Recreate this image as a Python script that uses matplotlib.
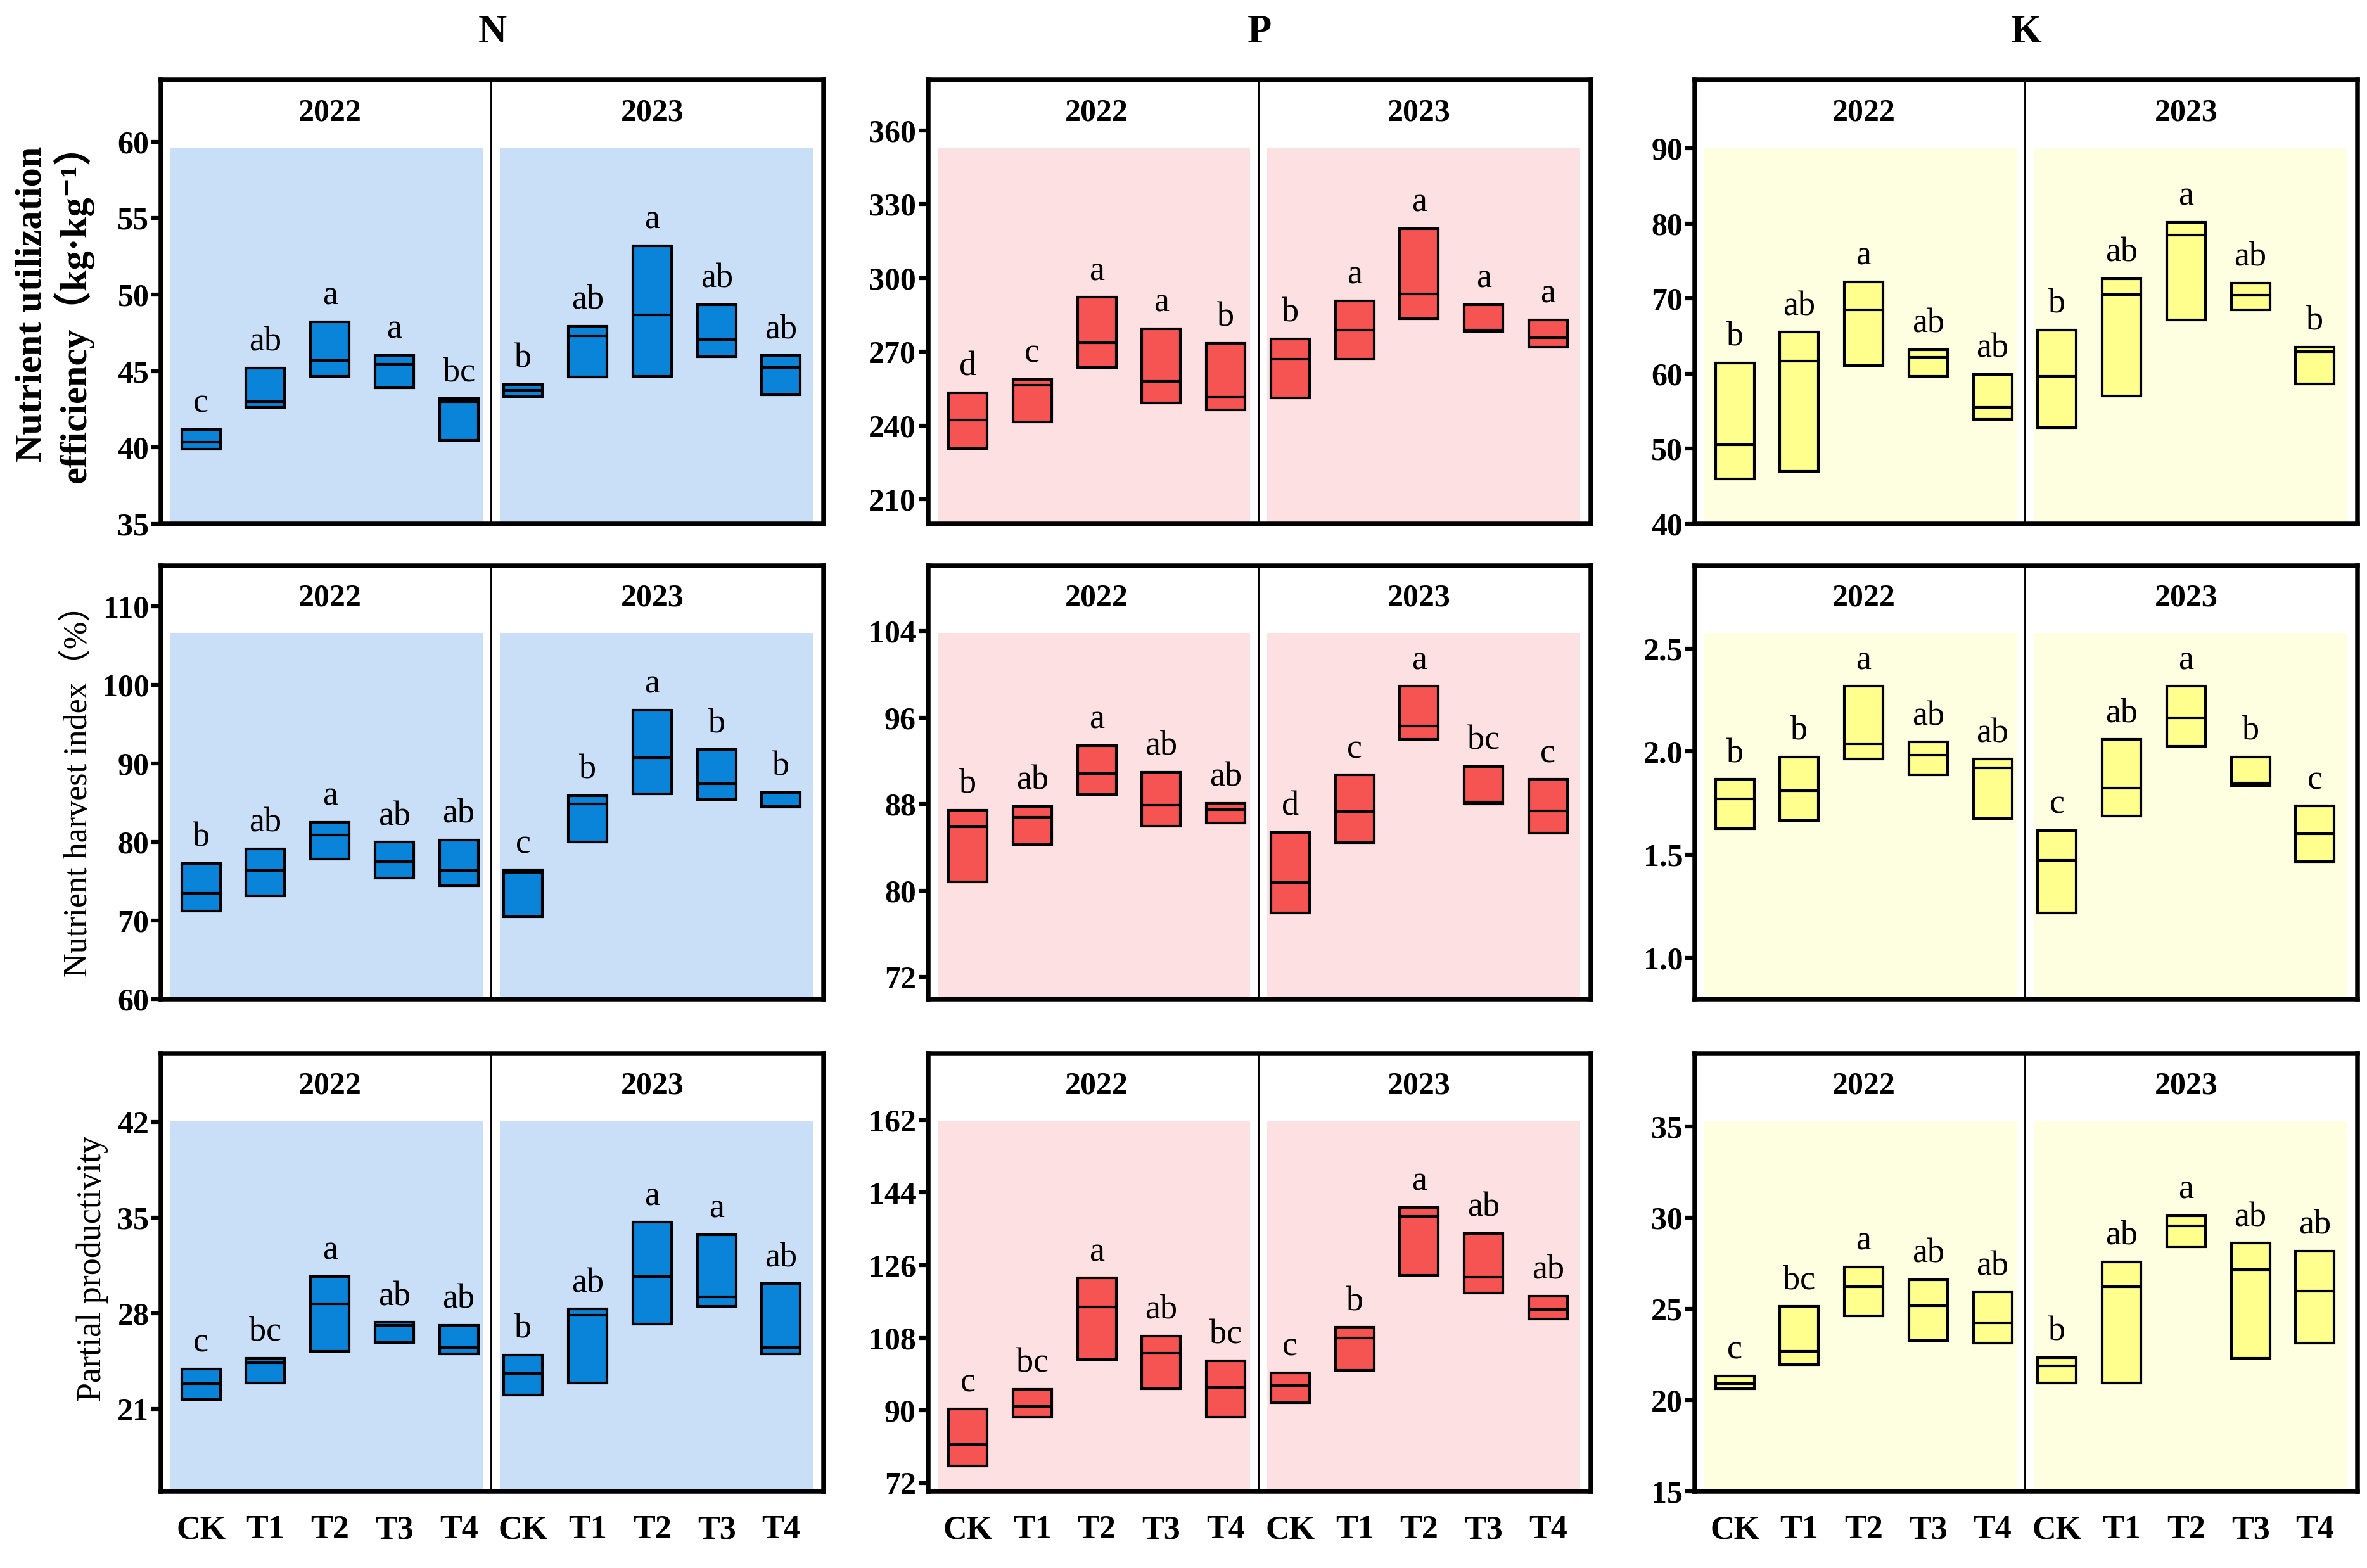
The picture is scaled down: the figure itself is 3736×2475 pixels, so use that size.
import numpy as np
import matplotlib
matplotlib.use('Agg')
from matplotlib import pyplot as plt

plt.rcParams['font.family'] = ['Liberation Serif', 'DejaVu Serif', 'Noto Sans CJK SC']

# kategori perlakuan (2022 lalu 2023)
perlakuan = ['CK', 'T1', 'T2', 'T3', 'T4']
tahun = ['2022', '2023']
hara = ['N', 'P', 'K']

# baris 1 : efisiensi pemanfaatan hara (min, median, maks)
nue_n_lo = [39.87, 42.62, 44.64, 43.90, 40.45, 43.34, 44.60, 44.64, 45.94, 43.45]
nue_n_md = [40.34, 43.00, 45.70, 45.43, 43.00, 43.74, 47.29, 48.68, 47.04, 45.25]
nue_n_hi = [41.17, 45.20, 48.23, 46.03, 43.18, 44.13, 47.94, 53.21, 49.35, 46.00]
nue_n_let = ['c', 'ab', 'a', 'a', 'bc', 'b', 'ab', 'a', 'ab', 'ab']

nue_p_lo = [230.6, 241.4, 263.7, 249.2, 246.4, 251.1, 267.0, 283.5, 278.3, 271.9]
nue_p_md = [242.1, 256.5, 273.7, 257.9, 251.6, 267.0, 278.8, 293.5, 278.8, 275.8]
nue_p_hi = [253.2, 258.6, 292.1, 279.3, 273.3, 275.1, 290.7, 320.1, 289.1, 283.0]
nue_p_let = ['d', 'c', 'a', 'a', 'b', 'b', 'a', 'a', 'a', 'a']

nue_k_lo = [46.00, 46.96, 61.10, 59.63, 53.87, 52.81, 57.05, 67.10, 68.48, 58.66]
nue_k_md = [50.51, 61.66, 68.48, 62.12, 55.48, 59.59, 70.55, 78.48, 70.46, 62.95]
nue_k_hi = [61.43, 65.50, 72.17, 63.18, 59.86, 65.81, 72.63, 80.10, 72.03, 63.55]
nue_k_let = ['b', 'ab', 'a', 'ab', 'ab', 'b', 'ab', 'a', 'ab', 'b']

# baris 2 : indeks panen hara
hi_n_lo = [71.18, 73.15, 77.83, 75.37, 74.38, 70.44, 80.01, 86.09, 85.35, 84.40]
hi_n_md = [73.43, 76.31, 80.83, 77.46, 76.31, 76.10, 84.81, 90.69, 87.40, 84.50]
hi_n_hi = [77.26, 79.10, 82.47, 79.93, 80.21, 76.40, 85.88, 96.77, 91.72, 86.30]
hi_n_let = ['b', 'ab', 'a', 'ab', 'ab', 'c', 'b', 'a', 'b', 'b']

hi_p_lo = [80.83, 84.27, 88.86, 85.94, 86.23, 77.93, 84.42, 93.98, 88.02, 85.30]
hi_p_md = [85.88, 86.76, 90.85, 87.87, 87.49, 80.77, 87.28, 95.23, 88.16, 87.34]
hi_p_hi = [87.43, 87.78, 93.42, 90.94, 88.07, 85.39, 90.70, 98.89, 91.49, 90.27]
hi_p_let = ['b', 'ab', 'a', 'ab', 'ab', 'd', 'c', 'a', 'bc', 'c']

hi_k_lo = [1.626, 1.667, 1.963, 1.887, 1.675, 1.218, 1.686, 2.025, 1.836, 1.465]
hi_k_md = [1.771, 1.810, 2.038, 1.982, 1.920, 1.471, 1.821, 2.163, 1.848, 1.601]
hi_k_hi = [1.864, 1.974, 2.316, 2.046, 1.963, 1.617, 2.058, 2.316, 1.974, 1.736]
hi_k_let = ['b', 'b', 'a', 'ab', 'ab', 'c', 'ab', 'a', 'b', 'c']

# baris 3 : produktivitas parsial
pp_n_lo = [21.69, 22.90, 25.24, 25.88, 25.03, 22.03, 22.90, 27.22, 28.50, 25.03]
pp_n_md = [22.85, 24.40, 28.71, 27.14, 25.50, 23.62, 27.86, 30.69, 29.22, 25.50]
pp_n_hi = [23.93, 24.73, 30.69, 27.35, 27.14, 24.96, 28.32, 34.67, 33.77, 30.17]
pp_n_let = ['c', 'bc', 'a', 'ab', 'ab', 'b', 'ab', 'a', 'a', 'ab']

pp_p_lo = [76.3, 88.36, 102.57, 95.42, 88.36, 91.97, 99.98, 123.41, 119.11, 112.73]
pp_p_md = [81.64, 90.94, 115.66, 104.12, 95.68, 96.11, 108.0, 138.14, 123.07, 115.06]
pp_p_hi = [90.34, 95.25, 122.81, 108.43, 102.31, 99.38, 110.58, 140.3, 133.83, 118.33]
pp_p_let = ['c', 'bc', 'a', 'ab', 'bc', 'c', 'b', 'a', 'ab', 'ab']

pp_k_lo = [20.62, 21.93, 24.62, 23.27, 23.13, 20.94, 20.94, 28.41, 22.28, 23.13]
pp_k_md = [20.90, 22.66, 26.22, 25.17, 24.22, 21.86, 26.22, 29.55, 27.17, 25.99]
pp_k_hi = [21.32, 25.13, 27.29, 26.60, 25.93, 22.33, 27.57, 30.12, 28.60, 28.18]
pp_k_let = ['c', 'bc', 'a', 'ab', 'ab', 'b', 'ab', 'a', 'ab', 'ab']

# label sumbu y tiap baris
label_baris = ['Nutrient utilization\nefficiency（kg·kg⁻¹）',
               'Nutrient harvest index（%）',
               'Partial productivity']

data = [
    [(nue_n_lo, nue_n_md, nue_n_hi, nue_n_let), (nue_p_lo, nue_p_md, nue_p_hi, nue_p_let), (nue_k_lo, nue_k_md, nue_k_hi, nue_k_let)],
    [(hi_n_lo, hi_n_md, hi_n_hi, hi_n_let), (hi_p_lo, hi_p_md, hi_p_hi, hi_p_let), (hi_k_lo, hi_k_md, hi_k_hi, hi_k_let)],
    [(pp_n_lo, pp_n_md, pp_n_hi, pp_n_let), (pp_p_lo, pp_p_md, pp_p_hi, pp_p_let), (pp_k_lo, pp_k_md, pp_k_hi, pp_k_let)],
]

# batas dan tick sumbu y tiap panel
batas_y = [
    [(35, 64.05), (200, 380.6), (40, 99.1)],
    [(60, 115.1), (70, 110), (0.8, 2.9)],
    [(15, 47), (70, 178.4), (15, 39)],
]
tick_y = [
    [np.arange(35, 61, 5), np.arange(210, 361, 30), np.arange(40, 91, 10)],
    [np.arange(60, 111, 10), np.arange(72, 105, 8), [1.0, 1.5, 2.0, 2.5]],
    [np.arange(21, 43, 7), np.arange(72, 163, 18), np.arange(15, 36, 5)],
]

warna_kotak = ['#0A84D8', '#F65353', '#FFFF8E']
warna_latar = ['#C9DFF7', '#FDE0E1', '#FEFEE0']

kiri = [0.068, 0.392, 0.716]
bawah = [0.666, 0.363, 0.049]
tinggi = [0.283, 0.276, 0.279]
lebar = 0.28

fig = plt.figure(figsize=(3736 / 300, 2475 / 300), dpi=300)

x = np.arange(1, 11)
for r in range(3):
    for c in range(3):
        ax = fig.add_axes([kiri[c], bawah[r], lebar, tinggi[r]])
        lo, md, hi, let = data[r][c]
        lo = np.array(lo); md = np.array(md); hi = np.array(hi)

        # latar berwarna tiap tahun
        ax.axvspan(0.53, 5.38, ymin=0, ymax=0.846, color=warna_latar[c], lw=0, zorder=0)
        ax.axvspan(5.64, 10.5, ymin=0, ymax=0.846, color=warna_latar[c], lw=0, zorder=0)
        ax.axvline(5.5, color='black', lw=0.7, zorder=1)

        # kotak min-maks dan garis median
        ax.bar(x, hi - lo, bottom=lo, width=0.6, color=warna_kotak[c],
               edgecolor='black', linewidth=1.0, zorder=2)
        ax.hlines(md, x - 0.3, x + 0.3, color='black', linewidth=1.0, zorder=3)

        y0, y1 = batas_y[r][c]
        rentang = y1 - y0
        for i in range(10):
            ax.text(x[i], hi[i] + 0.022 * rentang, let[i], ha='center', va='bottom',
                    fontsize=13, zorder=4)

        # label tahun
        for j, th in enumerate(tahun):
            ax.text(3 + 5 * j, 0.925, th, transform=ax.get_xaxis_transform(),
                    ha='center', va='center', fontsize=12, fontweight='bold')

        ax.set_xlim(0.38, 10.66)
        ax.set_ylim(y0, y1)
        ax.set_yticks(tick_y[r][c])
        if c == 2 and r == 1:
            ax.set_yticklabels(['%.1f' % v for v in tick_y[r][c]])
        for lab in ax.get_yticklabels():
            lab.set_fontweight('bold')
        ax.tick_params(axis='y', labelsize=12, length=3.5, width=1.5, pad=1)

        if r == 2:
            ax.set_xticks(x)
            ax.set_xticklabels(perlakuan * 2, fontsize=12.5, fontweight='bold')
            ax.tick_params(axis='x', length=0, pad=9)
        else:
            ax.set_xticks([])

        for s in ax.spines.values():
            s.set_linewidth(1.8)

        if r == 0:
            fig.text(kiri[c] + lebar / 2, 0.979, hara[c], ha='center', va='center',
                     fontsize=15, fontweight='bold')

# label baris
fig.text(0.023, 0.806, label_baris[0], rotation=90, ha='center', va='center',
         fontsize=14.5, fontweight='bold', linespacing=1.1)
fig.text(0.033, 0.501, label_baris[1], rotation=90, ha='center', va='center',
         fontsize=12.5)
fig.text(0.039, 0.191, label_baris[2], rotation=90, ha='center', va='center',
         fontsize=13)

fig.savefig('out.png', dpi=300)
